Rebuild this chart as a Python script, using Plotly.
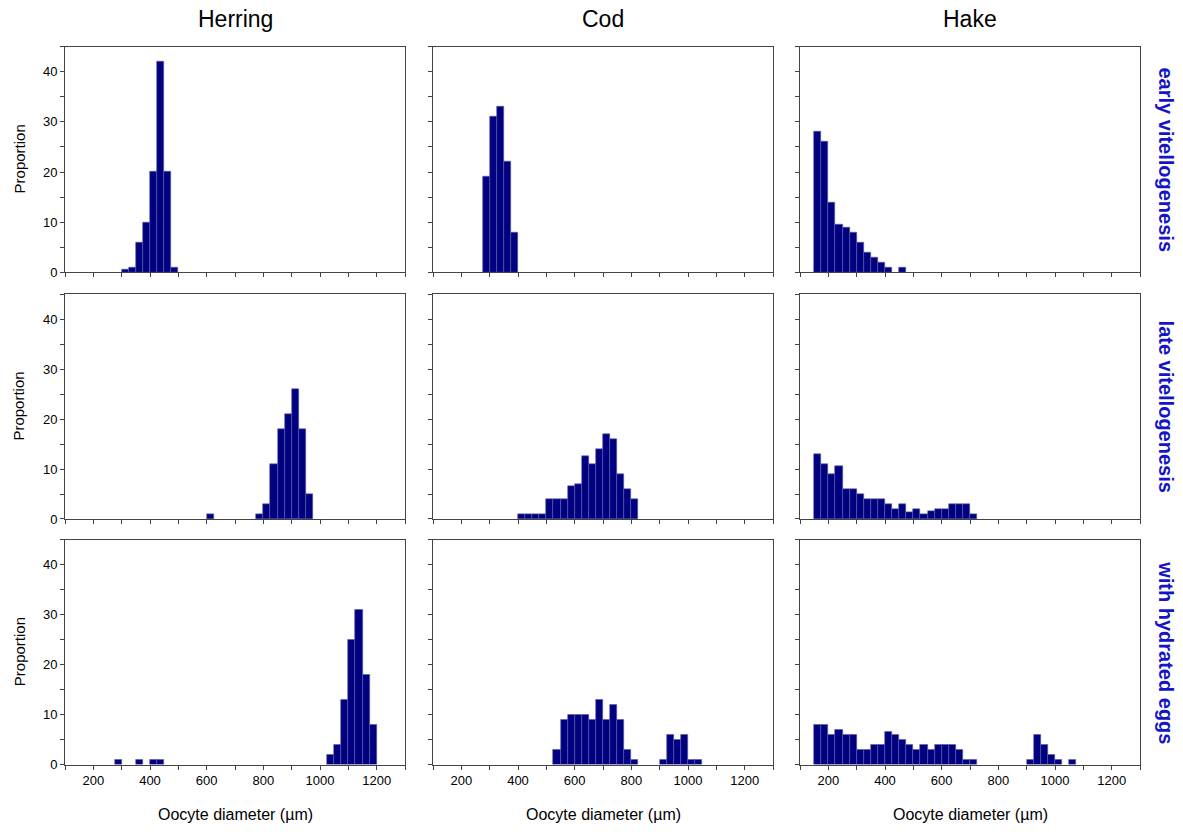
import plotly.graph_objects as go

# ---------------- data (bin width 25 µm, values = proportion %) ----------------
bin_width = 25
species = ["Herring", "Cod", "Hake"]
stages = ["early vitellogenesis", "late vitellogenesis", "with hydrated eggs"]

herring_early_bins = [300, 325, 350, 375, 400, 425, 450, 475]
herring_early_vals = [0.5, 1, 6, 10, 20, 42, 20, 1]
herring_late_bins = [600, 775, 800, 825, 850, 875, 900, 925, 950]
herring_late_vals = [1, 1, 3, 11, 18, 21, 26, 18, 5]
herring_hydr_bins = [275, 350, 400, 425, 1025, 1050, 1075, 1100, 1125, 1150, 1175]
herring_hydr_vals = [1, 1, 1, 1, 2, 4, 13, 25, 31, 18, 8]

cod_early_bins = [275, 300, 325, 350, 375]
cod_early_vals = [19, 31, 33, 22, 8]
cod_late_bins = [400, 425, 450, 475, 500, 525, 550, 575, 600, 625, 650, 675, 700,
                 725, 750, 775, 800]
cod_late_vals = [1, 1, 1, 1, 4, 4, 4, 6.5, 7, 12.5, 11, 14, 17, 16, 9, 6, 4]
cod_hydr_bins = [525, 550, 575, 600, 625, 650, 675, 700, 725, 750, 775, 800,
                 900, 925, 950, 975, 1000, 1025]
cod_hydr_vals = [3, 9, 10, 10, 10, 9, 13, 9, 12, 9, 3, 1, 1, 6, 5, 6, 1, 1]

hake_early_bins = [150, 175, 200, 225, 250, 275, 300, 325, 350, 375, 400, 450]
hake_early_vals = [28, 26, 14, 9.5, 9, 8, 6, 4, 3, 2, 1, 1]
hake_late_bins = [150, 175, 200, 225, 250, 275, 300, 325, 350, 375, 400, 425,
                  450, 475, 500, 525, 550, 575, 600, 625, 650, 675, 700]
hake_late_vals = [13, 11, 9, 10.5, 6, 6, 5, 4, 4, 4, 3, 2, 3, 1.4, 2, 1, 1.6,
                  2, 2, 3, 3, 3, 1]
hake_hydr_bins = [150, 175, 200, 225, 250, 275, 300, 325, 350, 375, 400, 425,
                  450, 475, 500, 525, 550, 575, 600, 625, 650, 675, 700,
                  900, 925, 950, 975, 1000, 1050]
hake_hydr_vals = [8, 8, 6, 7, 6, 6, 3, 3, 4, 4, 6.5, 6, 5, 4, 3, 4, 3, 4, 4, 4,
                  3, 1, 1, 1, 6, 4, 2, 1, 1]

x_ticks = [200, 400, 600, 800, 1000, 1200]
y_ticks = [0, 10, 20, 30, 40]

panels = [
    [(herring_early_bins, herring_early_vals), (cod_early_bins, cod_early_vals),
     (hake_early_bins, hake_early_vals)],
    [(herring_late_bins, herring_late_vals), (cod_late_bins, cod_late_vals),
     (hake_late_bins, hake_late_vals)],
    [(herring_hydr_bins, herring_hydr_vals), (cod_hydr_bins, cod_hydr_vals),
     (hake_hydr_bins, hake_hydr_vals)],
]

# ---------------- layout geometry (pixels) ----------------
W, H = 1183, 836
col_px = [(65, 405), (433, 773), (800, 1140)]
row_px = [(47, 275), (297, 524), (545, 772)]

FONT = "Liberation Sans, Arial, sans-serif"
fig = go.Figure()
layout = dict(
    width=W, height=H, margin=dict(l=0, r=0, t=0, b=0),
    paper_bgcolor="white", plot_bgcolor="white", showlegend=False,
    bargap=0, font=dict(family=FONT, size=13, color="black"),
)
annotations = []

for r in range(3):
    for c in range(3):
        idx = r * 3 + c + 1
        xa = "xaxis" if idx == 1 else f"xaxis{idx}"
        ya = "yaxis" if idx == 1 else f"yaxis{idx}"
        xr = "x" if idx == 1 else f"x{idx}"
        yr = "y" if idx == 1 else f"y{idx}"
        bins, vals = panels[r][c]
        centers = [b + bin_width / 2 for b in bins]
        fig.add_trace(go.Bar(
            x=centers, y=vals, width=bin_width, xaxis=xr, yaxis=yr,
            marker=dict(color="#000080", line=dict(color="#5c5ca8", width=0.6)),
            hoverinfo="x+y",
        ))
        x0, x1 = col_px[c]
        y0, y1 = row_px[r]
        layout[xa] = dict(
            domain=[x0 / W, x1 / W], range=[100, 1300], anchor=yr,
            tickvals=x_ticks, showticklabels=(r == 2),
            ticks="outside", ticklen=4, tickcolor="#444", tickwidth=1,
            minor=dict(dtick=100, tick0=0, ticks="outside", ticklen=4,
                       tickcolor="#444", tickwidth=1),
            showline=True, linecolor="#444", linewidth=1, mirror=True,
            showgrid=False, zeroline=False,
            tickfont=dict(size=13, color="black", family=FONT),
        )
        layout[ya] = dict(
            domain=[1 - y1 / H, 1 - y0 / H], range=[0, 45], anchor=xr,
            tickvals=y_ticks, showticklabels=(c == 0),
            ticks="outside", ticklen=4, tickcolor="#444", tickwidth=1,
            minor=dict(dtick=5, tick0=0, ticks="outside", ticklen=4,
                       tickcolor="#444", tickwidth=1),
            showline=True, linecolor="#444", linewidth=1, mirror=True,
            showgrid=False, zeroline=False,
            tickfont=dict(size=13, color="black", family=FONT),
        )

# column titles
for c, name in enumerate(species):
    cx = (col_px[c][0] + col_px[c][1]) / 2 / W
    annotations.append(dict(text=name, x=cx, y=1 - 19 / H, xref="paper", yref="paper",
                            showarrow=False, font=dict(size=23, family=FONT, color="black"),
                            xanchor="center", yanchor="middle"))
    annotations.append(dict(text="Oocyte diameter (µm)", x=cx, y=1 - 822 / H,
                            xref="paper", yref="paper", showarrow=False,
                            font=dict(size=16, family=FONT, color="black"),
                            xanchor="center", yanchor="middle"))

# row labels
for r, st in enumerate(stages):
    cy = 1 - (row_px[r][0] + row_px[r][1]) / 2 / H
    annotations.append(dict(text="<b>" + st + "</b>", x=1166 / W, y=cy, xref="paper",
                            yref="paper", showarrow=False, textangle=90,
                            font=dict(size=20, family=FONT, color="#1414c8"),
                            xanchor="center", yanchor="middle"))
    annotations.append(dict(text="Proportion", x=19 / W, y=cy, xref="paper",
                            yref="paper", showarrow=False, textangle=-90,
                            font=dict(size=15, family=FONT, color="black"),
                            xanchor="center", yanchor="middle"))

layout["annotations"] = annotations
fig.update_layout(**layout)
fig.write_html("out.html",
               config={"displayModeBar": False},
               post_script="document.body.style.margin='0px';"
                           "document.body.style.overflow='hidden';")
